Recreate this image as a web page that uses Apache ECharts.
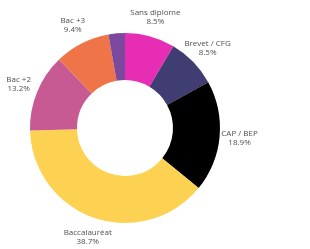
<!DOCTYPE html>
<html>
<head>
<meta charset="utf-8">
<script src="https://cdn.jsdelivr.net/npm/echarts@6/dist/echarts.min.js"></script>
<style>
    html, body { margin: 0; padding: 0; background: #fff; }
    #chart { width: 310px; height: 249px; }
</style>
</head>
<body>
<div id="chart"></div>
<script>
const categories = ['Sans diplome', 'Brevet / CFG', 'CAP / BEP', 'Baccalauréat', 'Bac +2', 'Bac +3', 'Bac +5'];
const shares = [8.5, 8.5, 18.9, 38.7, 13.2, 9.4, 2.8];
const sliceColors = ['#e62db3', '#403d72', '#000000', '#fdd152', '#c75a93', '#ef7447', '#7b4a9f'];
const labelled = [true, true, true, true, true, true, false];

const center = [125, 128];

const sliceData = categories.map((name, i) => ({
    name,
    value: shares[i],
    itemStyle: { color: sliceColors[i] }
}));

// second ring, invisible, only there to hold the centred labels
const labelData = categories.map((name, i) => ({
    name,
    value: shares[i],
    label: { show: labelled[i] }
}));

const chart = echarts.init(document.getElementById('chart'));
chart.setOption({
    animation: false,
    series: [
        {
            type: 'pie',
            center,
            radius: [48, 95],
            startAngle: 90,
            clockwise: true,
            silent: true,
            label: { show: false },
            labelLine: { show: false },
            itemStyle: { borderWidth: 0 },
            data: sliceData
        },
        {
            type: 'pie',
            center,
            radius: [100, 124],
            startAngle: 90,
            clockwise: true,
            silent: true,
            itemStyle: { color: 'rgba(0,0,0,0)', borderWidth: 0 },
            labelLine: { show: false },
            label: {
                position: 'inside',
                formatter: p => `${p.name}\n${p.value.toFixed(1)}%`,
                fontFamily: 'Open Sans',
                fontSize: 8,
                lineHeight: 9,
                color: '#505050',
                align: 'center'
            },
            data: labelData
        }
    ]
});
</script>
</body>
</html>
